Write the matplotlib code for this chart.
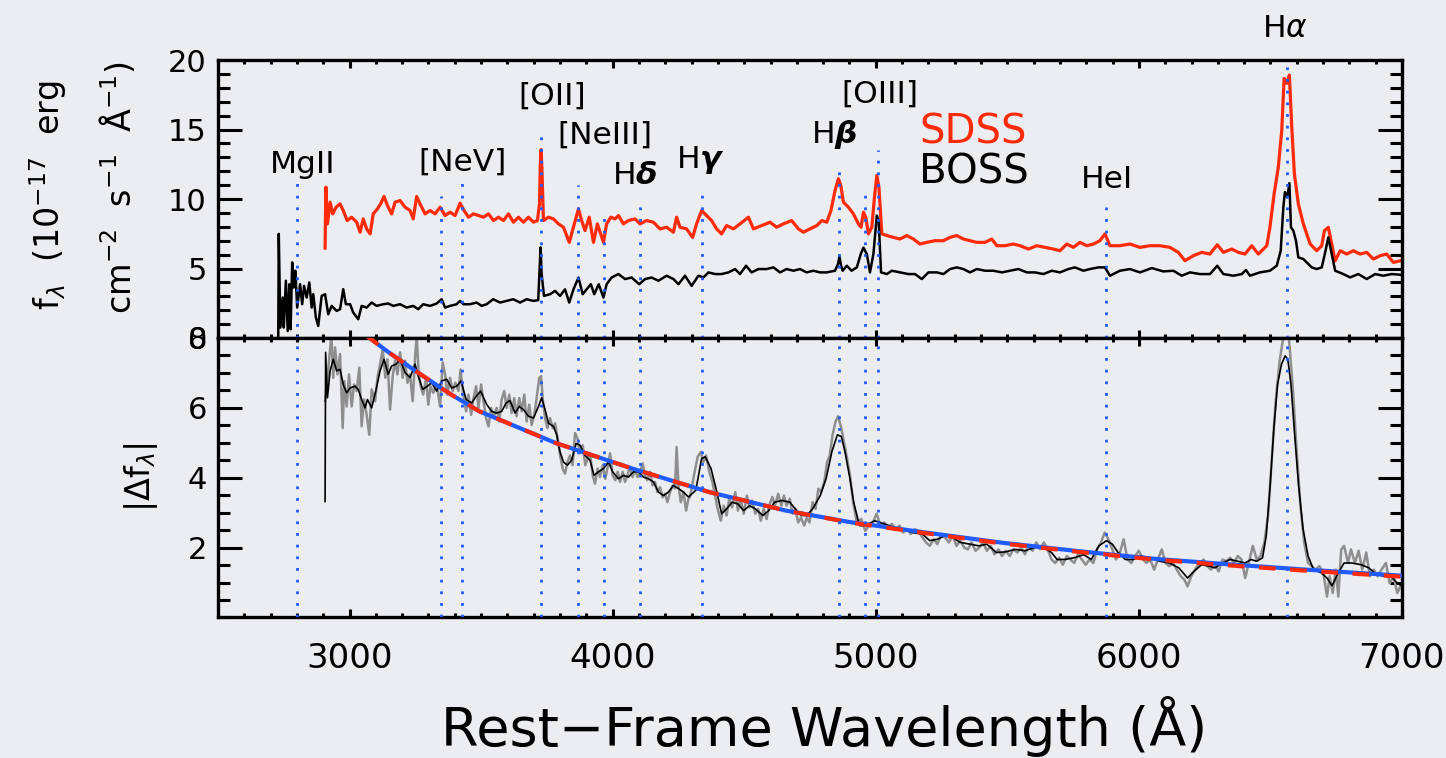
import matplotlib
matplotlib.use("Agg")
import matplotlib.pyplot as plt
from matplotlib.ticker import MultipleLocator

# ---- data ----
# top panel: BOSS (black) and SDSS (red) spectra, 1e-17 erg/cm2/s/A
boss_wave = [2729, 2731, 2737, 2746, 2750, 2758, 2765, 2771, 2776, 2782, 2788, 2794, 2801, 2812, 2820,
             2827, 2837, 2847, 2856, 2862, 2872, 2881, 2894, 2907, 2919, 2932, 2951, 2964, 2976, 2986,
             3002, 3014, 3033, 3046, 3065, 3084, 3103, 3128, 3147, 3166, 3192, 3217, 3242, 3261, 3280,
             3306, 3331, 3350, 3363, 3382, 3407, 3420, 3433, 3458, 3483, 3502, 3521, 3546, 3572, 3597,
             3622, 3648, 3673, 3698, 3717, 3723, 3726, 3730, 3739, 3762, 3781, 3800, 3819, 3835, 3851,
             3870, 3886, 3901, 3917, 3930, 3947, 3965, 3977, 3996, 4022, 4047, 4072, 4101, 4123, 4148,
             4174, 4205, 4231, 4250, 4275, 4300, 4326, 4345, 4364, 4389, 4414, 4440, 4465, 4484, 4507,
             4528, 4554, 4585, 4611, 4636, 4661, 4687, 4712, 4737, 4763, 4788, 4813, 4845, 4856, 4862,
             4868, 4874, 4890, 4908, 4928, 4943, 4953, 4966, 4978, 4991, 5004, 5011, 5020, 5042, 5061,
             5092, 5124, 5149, 5175, 5200, 5232, 5257, 5282, 5308, 5333, 5358, 5384, 5415, 5447, 5479,
             5510, 5542, 5574, 5605, 5637, 5669, 5700, 5732, 5757, 5789, 5814, 5846, 5871, 5890, 5928,
             5966, 6004, 6049, 6093, 6131, 6163, 6194, 6232, 6270, 6298, 6321, 6359, 6391, 6407, 6422,
             6460, 6498, 6524, 6539, 6549, 6555, 6564, 6572, 6578, 6587, 6597, 6606, 6625, 6657, 6676,
             6695, 6708, 6720, 6733, 6746, 6777, 6803, 6834, 6866, 6898, 6929, 6961, 6995]
boss_flux = [0.14, 7.49, 0.75, 2.91, 0.75, 4.12, 0.50, 3.87, 0.63, 5.44, 3.63, 4.84, 2.19, 3.87, 2.43,
             3.75, 2.91, 4.00, 2.19, 3.15, 1.47, 0.87, 3.03, 3.15, 1.71, 2.31, 1.95, 2.07, 3.51, 2.43,
             2.43, 1.83, 1.35, 2.31, 2.19, 2.55, 2.31, 2.43, 2.48, 2.31, 2.43, 2.19, 2.31, 2.07, 2.43,
             2.31, 2.48, 2.79, 2.19, 2.31, 2.43, 2.67, 2.43, 2.43, 2.55, 2.31, 2.43, 2.79, 2.55, 2.67,
             2.79, 2.55, 2.79, 2.67, 2.72, 5.20, 6.52, 4.60, 3.03, 3.15, 3.39, 3.03, 3.50, 2.55, 3.50,
             4.35, 3.15, 3.50, 3.87, 3.15, 3.87, 2.91, 3.87, 4.35, 4.60, 4.24, 4.35, 3.87, 4.24, 4.35,
             4.12, 4.48, 4.24, 3.87, 4.48, 3.75, 4.48, 4.36, 4.72, 4.60, 4.60, 4.72, 4.96, 4.60, 5.20,
             4.72, 4.96, 4.96, 5.08, 4.72, 4.96, 4.84, 4.96, 4.72, 4.84, 4.72, 4.72, 4.84, 5.30, 5.85,
             5.20, 4.84, 5.20, 4.84, 5.08, 6.04, 6.50, 6.04, 4.72, 6.04, 8.81, 8.45, 4.72, 4.60, 4.84,
             4.72, 4.60, 4.60, 4.24, 4.72, 4.72, 4.60, 4.96, 5.08, 4.96, 4.72, 4.96, 4.84, 4.84, 4.72,
             4.84, 4.96, 4.72, 4.72, 4.60, 4.84, 4.72, 4.96, 5.08, 4.84, 4.96, 5.08, 5.08, 4.48, 4.84,
             4.96, 4.72, 5.03, 4.79, 4.84, 4.48, 4.72, 4.60, 4.60, 5.20, 4.60, 4.48, 4.60, 4.89, 4.48,
             4.72, 4.84, 5.20, 6.28, 9.41, 10.50, 10.12, 11.14, 7.96, 7.72, 7.00, 5.80, 5.68, 5.08, 4.96,
             5.08, 6.16, 7.24, 6.04, 4.84, 4.60, 4.36, 4.60, 4.24, 4.60, 4.48, 4.60, 4.55]

sdss_wave = [2907, 2910, 2916, 2926, 2936, 2949, 2964, 2976, 2991, 3008, 3027, 3040, 3052, 3065, 3078,
             3090, 3106, 3118, 3131, 3144, 3160, 3173, 3192, 3211, 3230, 3242, 3255, 3268, 3287, 3306,
             3325, 3344, 3363, 3382, 3401, 3420, 3435, 3452, 3471, 3490, 3509, 3528, 3547, 3566, 3585,
             3604, 3623, 3642, 3661, 3680, 3699, 3714, 3722, 3725, 3728, 3731, 3737, 3756, 3775, 3794,
             3813, 3835, 3851, 3870, 3882, 3895, 3911, 3927, 3942, 3965, 3977, 3993, 4009, 4022, 4041,
             4060, 4085, 4104, 4129, 4155, 4180, 4205, 4231, 4243, 4256, 4281, 4304, 4319, 4338, 4357,
             4376, 4395, 4414, 4433, 4459, 4484, 4516, 4535, 4566, 4598, 4623, 4649, 4680, 4706, 4725,
             4750, 4776, 4795, 4814, 4830, 4845, 4858, 4867, 4877, 4896, 4915, 4934, 4944, 4953, 4962,
             4972, 4985, 4995, 5004, 5012, 5023, 5042, 5067, 5092, 5118, 5143, 5168, 5194, 5225, 5257,
             5282, 5308, 5333, 5358, 5384, 5415, 5441, 5460, 5491, 5523, 5548, 5580, 5612, 5643, 5675,
             5700, 5726, 5751, 5776, 5802, 5827, 5852, 5871, 5890, 5928, 5966, 6004, 6042, 6080, 6118,
             6150, 6175, 6207, 6239, 6270, 6298, 6321, 6353, 6378, 6403, 6429, 6454, 6486, 6498, 6514,
             6530, 6543, 6552, 6562, 6572, 6581, 6591, 6606, 6625, 6651, 6676, 6695, 6705, 6720, 6733,
             6746, 6765, 6790, 6815, 6840, 6866, 6891, 6917, 6942, 6967, 6995]
sdss_flux = [6.47, 10.85, 8.21, 9.77, 8.93, 9.41, 9.65, 9.17, 8.45, 8.69, 8.33, 7.61, 8.57, 7.85, 7.49,
             8.93, 9.29, 9.65, 10.18, 9.53, 8.93, 9.77, 9.89, 9.41, 9.17, 8.57, 10.18, 9.65, 8.93, 9.17,
             8.93, 9.41, 8.81, 9.05, 8.81, 9.70, 9.17, 8.69, 8.93, 8.81, 8.69, 8.93, 8.45, 8.69, 8.45,
             8.93, 8.33, 8.69, 8.33, 8.69, 8.33, 8.45, 9.65, 12.50, 13.55, 12.20, 8.45, 8.69, 8.57, 8.21,
             7.97, 6.88, 7.97, 9.29, 8.45, 7.73, 8.69, 6.88, 8.21, 6.88, 8.21, 8.69, 8.57, 8.81, 8.21,
             8.45, 8.57, 8.21, 8.45, 8.33, 7.85, 7.97, 7.61, 8.69, 7.97, 7.85, 7.24, 8.21, 9.17, 8.81,
             8.45, 7.85, 7.49, 8.09, 7.85, 8.21, 8.69, 7.85, 8.09, 8.33, 7.97, 8.21, 8.45, 7.85, 7.61,
             7.85, 8.09, 8.45, 8.33, 9.20, 10.60, 11.46, 10.98, 9.77, 9.41, 8.93, 8.21, 7.97, 9.05, 8.69,
             7.49, 7.97, 10.13, 11.70, 10.85, 7.49, 7.37, 7.24, 7.12, 7.37, 7.12, 6.76, 6.88, 7.00, 7.00,
             7.24, 7.37, 7.12, 7.00, 6.88, 6.88, 7.12, 6.64, 6.64, 6.76, 6.64, 6.40, 6.64, 6.52, 6.40,
             6.28, 6.76, 6.52, 6.88, 6.64, 6.76, 7.00, 7.49, 6.64, 6.64, 6.76, 6.52, 6.64, 6.64, 6.52,
             6.16, 5.56, 5.92, 6.16, 6.04, 6.71, 6.16, 6.40, 6.16, 6.04, 6.64, 6.04, 6.64, 7.96, 10.37,
             12.30, 14.95, 18.68, 18.32, 18.92, 15.19, 11.81, 9.65, 8.21, 6.76, 6.28, 6.64, 7.72, 7.96, 6.76,
             5.56, 6.28, 6.04, 6.28, 6.04, 6.16, 5.68, 5.92, 6.04, 5.44, 5.56]

# bottom panel: |difference| (grey), smoothed (black), power-law fits
diff_wave = [2907, 2913, 2923, 2931, 2938, 2945, 2954, 2964, 2974, 2980, 2989, 2998, 3008, 3017, 3027,
             3037, 3046, 3055, 3065, 3075, 3084, 3097, 3106, 3116, 3126, 3136, 3144, 3154, 3164, 3173,
             3182, 3192, 3202, 3211, 3220, 3230, 3240, 3249, 3255, 3263, 3272, 3280, 3291, 3299, 3308,
             3318, 3331, 3344, 3354, 3363, 3372, 3382, 3392, 3402, 3414, 3422, 3432, 3443, 3452, 3462,
             3470, 3481, 3490, 3500, 3509, 3519, 3528, 3538, 3549, 3559, 3569, 3578, 3588, 3597, 3607,
             3616, 3626, 3635, 3645, 3654, 3664, 3673, 3683, 3692, 3702, 3711, 3721, 3728, 3734, 3743,
             3752, 3762, 3772, 3781, 3791, 3800, 3810, 3819, 3828, 3838, 3848, 3857, 3866, 3876, 3886,
             3896, 3905, 3914, 3924, 3933, 3943, 3952, 3962, 3972, 3981, 3990, 4000, 4010, 4019, 4028,
             4038, 4047, 4056, 4066, 4076, 4085, 4094, 4104, 4114, 4123, 4132, 4142, 4152, 4161, 4170,
             4180, 4190, 4199, 4208, 4218, 4228, 4237, 4243, 4250, 4259, 4269, 4279, 4288, 4294, 4309,
             4323, 4335, 4345, 4355, 4367, 4379, 4389, 4399, 4411, 4422, 4433, 4443, 4454, 4466, 4476,
             4486, 4498, 4510, 4520, 4530, 4542, 4553, 4563, 4574, 4585, 4597, 4607, 4617, 4629, 4641,
             4651, 4661, 4673, 4684, 4694, 4705, 4716, 4728, 4738, 4748, 4760, 4771, 4782, 4792, 4804,
             4815, 4825, 4836, 4847, 4857, 4869, 4879, 4891, 4902, 4914, 4928, 4945, 4960, 4974, 4989,
             5003, 5018, 5032, 5047, 5061, 5075, 5090, 5104, 5119, 5133, 5148, 5162, 5177, 5191, 5205,
             5220, 5234, 5249, 5263, 5278, 5292, 5307, 5321, 5336, 5350, 5364, 5379, 5393, 5408, 5422,
             5437, 5451, 5466, 5480, 5494, 5509, 5523, 5538, 5552, 5567, 5581, 5596, 5610, 5624, 5639,
             5653, 5668, 5682, 5697, 5711, 5726, 5740, 5754, 5769, 5783, 5798, 5812, 5827, 5841, 5856,
             5870, 5884, 5899, 5913, 5928, 5942, 5957, 5971, 5986, 6000, 6015, 6029, 6043, 6058, 6072,
             6087, 6101, 6116, 6130, 6144, 6159, 6173, 6185, 6199, 6217, 6231, 6246, 6260, 6274, 6289,
             6303, 6318, 6332, 6347, 6361, 6376, 6390, 6404, 6419, 6433, 6448, 6462, 6477, 6491, 6506,
             6520, 6535, 6549, 6561, 6571, 6585, 6600, 6614, 6628, 6643, 6657, 6672, 6686, 6701, 6715,
             6725, 6737, 6748, 6758, 6769, 6780, 6795, 6806, 6821, 6835, 6849, 6864, 6878, 6893, 6907,
             6922, 6939, 6953, 6968, 6982, 6994]
diff_flux = [6.20, 6.57, 7.44, 8.07, 6.86, 7.73, 6.96, 7.54, 5.42, 6.77, 6.04, 6.96, 6.04, 6.67, 6.48,
             7.15, 5.47, 6.24, 5.80, 5.23, 6.53, 6.19, 6.86, 7.25, 7.68, 6.86, 7.39, 5.95, 6.91, 7.35,
             6.96, 7.59, 6.86, 7.35, 6.72, 6.96, 6.19, 7.44, 8.07, 6.96, 6.57, 6.38, 6.86, 6.09, 6.62,
             6.43, 6.67, 6.04, 7.30, 6.96, 6.38, 6.86, 6.48, 6.72, 6.48, 7.10, 6.38, 5.90, 6.38, 5.80,
             6.24, 6.62, 6.00, 6.67, 6.19, 5.71, 5.47, 6.00, 5.76, 6.00, 5.61, 6.24, 6.48, 6.00, 6.38,
             5.85, 6.28, 5.76, 6.28, 5.90, 6.38, 5.61, 6.09, 5.51, 5.80, 6.28, 6.86, 6.91, 6.28, 5.71,
             5.42, 5.71, 5.42, 5.56, 5.13, 4.64, 4.26, 4.12, 4.45, 4.64, 4.36, 5.28, 5.13, 4.70, 4.93,
             4.36, 4.55, 4.70, 4.07, 3.83, 4.26, 4.02, 4.36, 3.97, 4.31, 4.70, 4.07, 3.93, 4.17, 3.88,
             4.17, 3.88, 4.07, 4.31, 4.02, 4.26, 4.02, 4.17, 4.41, 4.07, 3.93, 4.17, 3.78, 3.88, 3.59,
             3.73, 3.44, 3.54, 3.30, 3.59, 3.78, 3.69, 4.88, 3.78, 3.30, 3.59, 3.06, 3.40, 3.45, 4.07,
             4.60, 4.74, 4.45, 4.64, 4.17, 3.88, 3.49, 3.11, 2.77, 3.20, 2.92, 3.40, 3.15, 3.59, 3.06,
             3.40, 2.97, 3.49, 3.15, 3.35, 2.97, 3.11, 2.77, 3.11, 2.82, 3.25, 3.45, 3.20, 3.54, 3.20,
             3.49, 3.20, 3.40, 2.97, 3.11, 2.72, 2.86, 2.63, 2.86, 2.72, 3.30, 3.11, 3.69, 3.59, 3.88,
             4.45, 4.64, 5.23, 5.61, 5.76, 5.42, 5.03, 4.55, 4.07, 3.30, 2.72, 2.82, 2.48, 2.63, 2.72,
             2.97, 2.63, 2.72, 2.58, 2.68, 2.53, 2.63, 2.43, 2.53, 2.39, 2.53, 2.48, 2.29, 2.15, 2.05,
             2.24, 2.10, 2.39, 2.29, 2.15, 2.34, 2.05, 2.20, 2.00, 1.95, 2.15, 1.91, 2.00, 2.15, 1.91,
             2.05, 1.81, 1.95, 1.76, 1.91, 1.76, 1.95, 1.86, 2.00, 1.81, 2.05, 1.91, 2.15, 1.95, 2.15,
             1.95, 1.66, 1.56, 1.71, 1.51, 1.76, 1.66, 1.56, 1.81, 1.66, 1.51, 1.66, 1.56, 1.95, 2.15,
             2.43, 2.24, 1.95, 1.66, 1.86, 2.24, 1.66, 1.56, 1.76, 1.91, 1.66, 1.56, 1.66, 1.37, 1.66,
             1.95, 1.56, 1.47, 1.56, 1.37, 1.18, 1.08, 0.89, 1.18, 1.42, 1.56, 1.66, 1.47, 1.37, 1.51,
             1.32, 1.66, 1.61, 1.71, 1.56, 1.76, 1.66, 1.13, 1.61, 2.05, 1.66, 1.76, 2.15, 2.92, 4.64,
             6.19, 7.35, 8.02, 8.21, 7.92, 6.57, 4.74, 3.20, 2.15, 1.56, 1.47, 1.37, 1.47, 1.28, 0.60,
             1.18, 0.70, 1.37, 0.60, 1.95, 2.05, 1.56, 1.95, 1.56, 1.91, 1.37, 1.86, 1.18, 1.37, 1.18,
             1.37, 1.56, 0.98, 1.18, 0.70, 0.89]

smooth_wave = [2907, 2909, 2916, 2926, 2938, 2951, 2964, 2976, 2989, 3002, 3021, 3033, 3046, 3059, 3068,
               3084, 3101, 3116, 3131, 3147, 3160, 3177, 3192, 3211, 3230, 3249, 3261, 3278, 3296, 3312,
               3331, 3350, 3369, 3388, 3407, 3424, 3443, 3464, 3481, 3498, 3521, 3540, 3559, 3578, 3595,
               3610, 3629, 3645, 3661, 3680, 3699, 3718, 3730, 3743, 3756, 3775, 3787, 3800, 3813, 3828,
               3844, 3861, 3876, 3895, 3914, 3929, 3946, 3965, 3984, 4000, 4022, 4041, 4060, 4079, 4098,
               4117, 4136, 4155, 4174, 4193, 4212, 4231, 4250, 4269, 4288, 4316, 4338, 4352, 4374, 4396,
               4414, 4433, 4454, 4476, 4498, 4520, 4542, 4571, 4593, 4615, 4644, 4673, 4694, 4716, 4738,
               4760, 4789, 4811, 4833, 4854, 4869, 4883, 4902, 4916, 4938, 4960, 4996, 5032, 5068, 5104,
               5140, 5177, 5205, 5234, 5263, 5292, 5321, 5357, 5393, 5422, 5458, 5494, 5530, 5567, 5603,
               5639, 5668, 5689, 5718, 5754, 5790, 5819, 5848, 5877, 5899, 5921, 5949, 5978, 6007, 6043,
               6079, 6116, 6152, 6185, 6209, 6238, 6267, 6289, 6318, 6347, 6376, 6404, 6426, 6448, 6470,
               6484, 6498, 6513, 6527, 6542, 6556, 6566, 6578, 6592, 6607, 6624, 6643, 6664, 6693, 6715,
               6734, 6758, 6780, 6809, 6845, 6874, 6903, 6932, 6953, 6982, 6994]
smooth_flux = [3.32, 7.59, 6.29, 7.06, 7.39, 7.06, 7.10, 6.67, 6.43, 6.57, 6.62, 6.53, 6.24, 6.00, 6.24,
               6.00, 6.53, 7.06, 7.39, 6.96, 7.20, 7.25, 7.39, 7.01, 6.87, 7.25, 6.91, 6.53, 6.62, 6.72,
               6.48, 6.77, 6.82, 6.57, 6.62, 6.77, 6.24, 6.14, 6.33, 6.48, 6.10, 5.90, 5.85, 5.90, 6.14,
               6.21, 5.85, 6.04, 5.95, 5.76, 5.71, 6.04, 6.29, 5.95, 5.56, 5.47, 5.23, 4.74, 4.45, 4.36,
               4.50, 4.98, 4.93, 4.64, 4.50, 4.07, 4.17, 4.26, 4.45, 4.17, 3.97, 4.07, 4.02, 4.17, 4.17,
               4.02, 3.97, 3.88, 3.59, 3.49, 3.59, 3.78, 3.69, 3.59, 3.45, 3.64, 4.55, 4.60, 4.26, 3.59,
               2.97, 3.11, 3.30, 3.25, 3.06, 3.20, 3.11, 2.92, 3.06, 3.30, 3.35, 3.30, 3.11, 2.92, 2.92,
               3.11, 3.49, 3.97, 4.74, 5.23, 5.18, 4.74, 3.97, 3.30, 2.63, 2.63, 2.77, 2.68, 2.58, 2.53,
               2.43, 2.39, 2.20, 2.24, 2.34, 2.29, 2.15, 2.10, 2.05, 2.10, 1.86, 1.88, 1.95, 1.91, 2.00,
               2.00, 1.86, 1.66, 1.66, 1.71, 1.80, 1.66, 2.05, 2.20, 2.10, 1.86, 1.66, 1.66, 1.76, 1.71,
               1.61, 1.56, 1.42, 1.13, 1.32, 1.51, 1.47, 1.42, 1.56, 1.66, 1.61, 1.56, 1.66, 1.61, 1.71,
               2.34, 3.68, 5.42, 6.67, 7.25, 7.49, 7.39, 6.67, 5.23, 3.78, 2.53, 1.76, 1.37, 1.28, 1.13,
               0.91, 1.28, 1.56, 1.56, 1.51, 1.42, 1.23, 1.18, 1.23, 0.98, 0.93]

fit_wave = [3058, 3154, 3262, 3382, 3494, 3785, 4076, 4367, 4658, 4902, 5191, 5480, 5769, 6058, 6346,
            6635, 6994]
fit_blue = [8.10, 7.56, 7.00, 6.40, 5.90, 4.99, 4.26, 3.59, 3.06, 2.73, 2.43, 2.14, 1.90, 1.68, 1.52,
            1.37, 1.20]
fit_red = [8.10, 7.56, 7.00, 6.40, 5.90, 4.99, 4.26, 3.59, 3.06, 2.72, 2.41, 2.12, 1.88, 1.66, 1.49,
           1.34, 1.17]

# emission lines (rest wavelength) and the flux where the dotted marker stops in the top panel
line_wave = [2800, 3346, 3426, 3727, 3869, 3968, 4102, 4340, 4861, 4959, 5007, 5876, 6563]
line_top = [11.7, 10.25, 11.6, 15.1, 11.0, 8.95, 9.67, 10.83, 12.27, 10.83, 13.5, 9.39, 19.64]

line_names = ["MgII", "[NeV]", "[OII]", "[NeIII]", r"H$\boldsymbol{\delta}$", r"H$\boldsymbol{\gamma}$",
              r"H$\boldsymbol{\beta}$", "[OIII]", "HeI", r"H$\alpha$"]

# ---- styling ----
bg = "#ECEDF1"
red = "#FF2A0A"
blue = "#1F5BFF"
plt.rcParams["font.family"] = ["DejaVu Sans"]
plt.rcParams["mathtext.fontset"] = "dejavusans"

fig = plt.figure(figsize=(14.46, 7.58), dpi=100, facecolor=bg)
ax1 = fig.add_axes([0.15076, 0.55409, 0.81881, 0.36675])
ax2 = fig.add_axes([0.15076, 0.18536, 0.81881, 0.36873])

for ax in (ax1, ax2):
    ax.set_facecolor(bg)
    ax.set_xlim(2500, 7000)
    ax.xaxis.set_major_locator(MultipleLocator(1000))
    ax.xaxis.set_minor_locator(MultipleLocator(100))
    ax.tick_params(which="both", direction="in", top=True, right=True, width=2.2, colors="black")
    ax.tick_params(axis="y", which="major", length=17, labelsize=22, pad=8)
    ax.tick_params(axis="y", which="minor", length=8.5)
    ax.tick_params(axis="x", which="major", length=6)
    ax.tick_params(axis="x", which="minor", length=3)
    for s in ax.spines.values():
        s.set_linewidth(2.4)

# top panel
ax1.set_ylim(0, 20)
ax1.yaxis.set_major_locator(MultipleLocator(5))
ax1.yaxis.set_minor_locator(MultipleLocator(1))
ax1.tick_params(axis="x", labelbottom=False)
ax1.vlines(line_wave, 0, line_top, colors=blue, linestyles=(0, (1, 3.2)), linewidth=2, zorder=4)
ax1.plot(sdss_wave, sdss_flux, color=red, lw=2.3, zorder=2)
ax1.plot(boss_wave, boss_flux, color="black", lw=1.8, zorder=3)

label_pos = [(2823, 11.9), (3431, 12.05), (3769, 16.75), (3971, 14.0), (4085, 11.1), (4332, 12.2),
             (4841, 14.0), (5016, 16.9), (5879, 10.76), (6556, 21.66)]
for name, (x, y) in zip(line_names, label_pos):
    ax1.text(x, y, name, fontsize=22.5, ha="center", va="baseline", clip_on=False)
ax1.text(5164, 14.0, "SDSS", color=red, fontsize=29, ha="left", va="baseline")
ax1.text(5164, 11.1, "BOSS", color="black", fontsize=29, ha="left", va="baseline")

# bottom panel
ax2.set_ylim(0, 8)
ax2.yaxis.set_major_locator(MultipleLocator(2))
ax2.yaxis.set_minor_locator(MultipleLocator(0.5))
ax2.set_yticks([2, 4, 6, 8])
ax2.tick_params(axis="x", labelsize=24.5, pad=18)
ax2.vlines(line_wave, 0, 8, colors=blue, linestyles=(0, (1, 3.2)), linewidth=2, zorder=5)
ax2.plot(diff_wave, diff_flux, color="#8E8E8E", lw=1.8, zorder=2)
ax2.plot(smooth_wave, smooth_flux, color="black", lw=1.2, zorder=3)
ax2.plot(fit_wave, fit_blue, color=blue, lw=3, zorder=4)
ax2.plot(fit_wave, fit_red, color=red, lw=3, ls=(0, (4, 3.5)), zorder=4)

ax2.set_xlabel("Rest\u2212Frame Wavelength (\u00c5)", fontsize=39)
ax2.xaxis.set_label_coords(0.512, -0.28)

fig.text(48 / 1446, 1 - 195 / 758, r"f$_\lambda$  (10$^{-17}$  erg", rotation=90,
         ha="center", va="center", fontsize=24)
fig.text(118 / 1446, 1 - 188 / 758, r"cm$^{-2}$  s$^{-1}$  Å$^{-1}$)", rotation=90,
         ha="center", va="center", fontsize=24)
fig.text(141 / 1446, 1 - 477 / 758, r"|$\Delta$f$_\lambda$|", rotation=90,
         ha="center", va="center", fontsize=24)

fig.savefig("out.png", dpi=100, facecolor=bg)
